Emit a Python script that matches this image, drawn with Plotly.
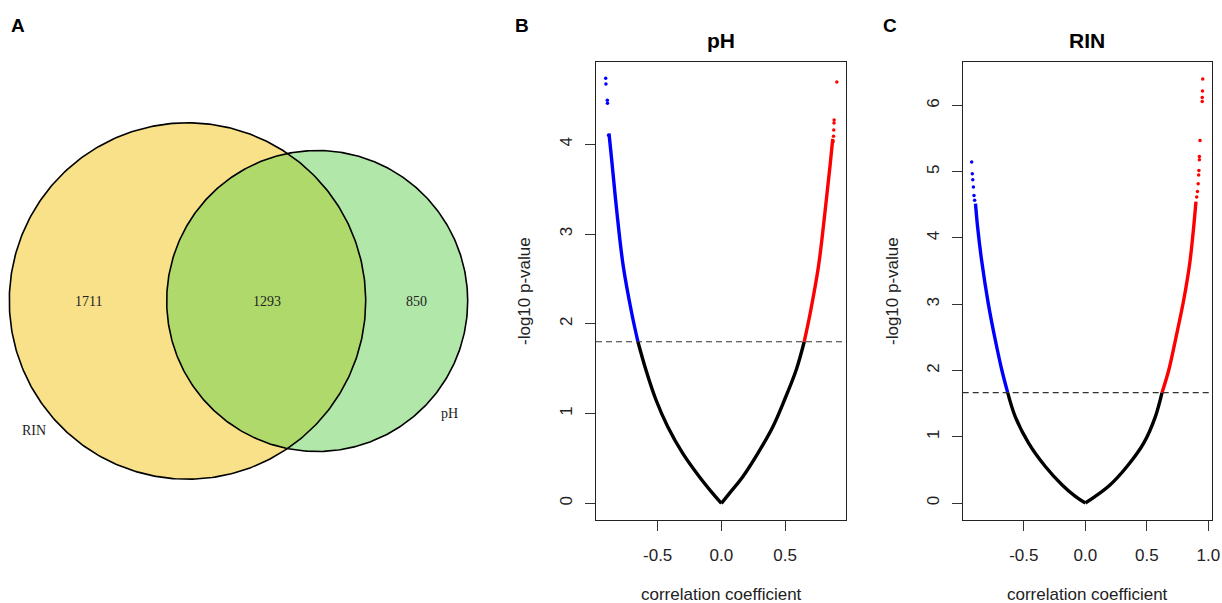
import numpy as np
import plotly.graph_objects as go

W, H = 1222, 603          # reference pixel frame used for positions
FIG_W = 1230              # rendered width (the page capture is scaled to 1222)

# ---------------- data ----------------
venn_sets = ["RIN", "pH"]
venn_counts = [1711, 1293, 850]  # RIN only, both, pH only

ph_threshold = 1.80
ph_left_r = [-0.882, -0.861, -0.822, -0.770, -0.704, -0.655, -0.592, -0.513, -0.421, -0.303, -0.173, -0.068, 0.0]
ph_left_v = [4.12, 3.83, 3.27, 2.64, 2.12, 1.80, 1.485, 1.151, 0.854, 0.557, 0.297, 0.111, 0.0]
ph_right_r = [0.0, 0.063, 0.168, 0.286, 0.404, 0.495, 0.587, 0.650, 0.697, 0.762, 0.815, 0.852, 0.874]
ph_right_v = [0.0, 0.111, 0.297, 0.557, 0.854, 1.151, 1.485, 1.80, 2.117, 2.64, 3.27, 3.75, 4.06]
ph_tail_neg_r = [-0.908, -0.906, -0.895, -0.894, -0.885]
ph_tail_neg_v = [4.735, 4.672, 4.49, 4.457, 4.10]
ph_tail_pos_r = [0.906, 0.885, 0.884, 0.882, 0.880, 0.877]
ph_tail_pos_v = [4.694, 4.27, 4.236, 4.16, 4.09, 4.03]

rin_threshold = 1.666
rin_left_r = [-0.893, -0.876, -0.843, -0.789, -0.732, -0.678, -0.631, -0.570, -0.461, -0.325, -0.190, -0.081, 0.0]
rin_left_v = [4.52, 4.17, 3.66, 3.01, 2.46, 2.00, 1.666, 1.305, 0.904, 0.551, 0.276, 0.10, 0.0]
rin_right_r = [0.0, 0.081, 0.203, 0.339, 0.475, 0.570, 0.624, 0.678, 0.733, 0.800, 0.848, 0.878, 0.900]
rin_right_v = [0.0, 0.10, 0.276, 0.551, 0.904, 1.305, 1.666, 2.00, 2.46, 3.06, 3.60, 4.10, 4.55]
rin_tail_neg_r = [-0.924, -0.919, -0.915, -0.910, -0.905, -0.900]
rin_tail_neg_v = [5.145, 4.97, 4.88, 4.77, 4.64, 4.57]
rin_tail_pos_r = [0.955, 0.953, 0.951, 0.951, 0.933, 0.928, 0.928, 0.924, 0.922, 0.918, 0.912, 0.906]
rin_tail_pos_v = [6.40, 6.22, 6.12, 6.06, 5.47, 5.23, 5.18, 5.02, 4.95, 4.82, 4.70, 4.62]

def px(x):
    return x / W

def py(y):
    return 1 - y / H

FONT = "Liberation Sans"
BLUE = "#0000FF"
RED = "#FF0000"

fig = go.Figure()

# ---------------- panel A: Venn ----------------
cA = (187.5, 301.0, 178.2)
cB = (317.2, 301.0, 150.5)
col_rin = "#F9E189"
col_ph = "#B1E7A9"
col_both = "#AFDA6B"

def circle_pts(c, n=400):
    t = np.linspace(0, 2 * np.pi, n)
    return c[0] + c[2] * np.cos(t), c[1] + c[2] * np.sin(t)

for c, col in [(cA, col_rin), (cB, col_ph)]:
    xs, ys = circle_pts(c)
    fig.add_trace(go.Scatter(x=xs, y=ys, mode="lines", fill="toself", fillcolor=col,
                             line=dict(width=0, color=col), xaxis="x3", yaxis="y3",
                             hoverinfo="skip", showlegend=False))

d = cB[0] - cA[0]
a = (d ** 2 + cA[2] ** 2 - cB[2] ** 2) / (2 * d)
h = np.sqrt(cA[2] ** 2 - a ** 2)
thA = np.arctan2(h, a)
thB = np.arctan2(h, d - a)
tA = np.linspace(-thA, thA, 200)
tB = np.linspace(np.pi - thB, np.pi + thB, 200)
lx = np.concatenate([cA[0] + cA[2] * np.cos(tA), cB[0] + cB[2] * np.cos(tB)])
ly = np.concatenate([cA[1] + cA[2] * np.sin(tA), cB[1] + cB[2] * np.sin(tB)])
fig.add_trace(go.Scatter(x=lx, y=ly, mode="lines", fill="toself", fillcolor=col_both,
                         line=dict(width=0, color=col_both), xaxis="x3", yaxis="y3",
                         hoverinfo="skip", showlegend=False))
for c in [cA, cB]:
    xs, ys = circle_pts(c)
    fig.add_trace(go.Scatter(x=xs, y=ys, mode="lines", line=dict(width=1.6, color="black"),
                             xaxis="x3", yaxis="y3", hoverinfo="skip", showlegend=False))

venn_text_pos = [(88, 301.7), (266.7, 301.7), (416.7, 301.7)]
for (tx, ty), n in zip(venn_text_pos, venn_counts):
    fig.add_annotation(x=tx, y=ty, xref="x3", yref="y3", text=str(n), showarrow=False,
                       xanchor="center", yanchor="middle",
                       font=dict(family="Liberation Serif", size=14, color="#222"))
venn_label_pos = [(34, 430.7), (449, 413)]
for (tx, ty), s in zip(venn_label_pos, venn_sets):
    fig.add_annotation(x=tx, y=ty, xref="x3", yref="y3", text=s, showarrow=False,
                       xanchor="center", yanchor="middle",
                       font=dict(family="Liberation Serif", size=14, color="#222"))

# ---------------- panels B, C ----------------
def add_curve(lr, lv, rr, rv, thr, tnr, tnv, tpr, tpv, xa, ya):
    lr, lv, rr, rv = map(np.array, (lr, lv, rr, rv))
    for r_, v_ in [(lr[lv <= thr], lv[lv <= thr]), (rr[rv <= thr], rv[rv <= thr])]:
        fig.add_trace(go.Scatter(x=r_, y=v_, mode="lines",
                                 line=dict(color="black", width=3.4, shape="spline", smoothing=1.0),
                                 xaxis=xa, yaxis=ya, hoverinfo="skip", showlegend=False))
    fig.add_trace(go.Scatter(x=lr[lv >= thr], y=lv[lv >= thr], mode="lines",
                             line=dict(color=BLUE, width=3.4, shape="spline", smoothing=1.0),
                             xaxis=xa, yaxis=ya, hoverinfo="skip", showlegend=False))
    fig.add_trace(go.Scatter(x=rr[rv >= thr], y=rv[rv >= thr], mode="lines",
                             line=dict(color=RED, width=3.4, shape="spline", smoothing=1.0),
                             xaxis=xa, yaxis=ya, hoverinfo="skip", showlegend=False))
    fig.add_trace(go.Scatter(x=tnr, y=tnv, mode="markers", marker=dict(color=BLUE, size=3.5),
                             xaxis=xa, yaxis=ya, hoverinfo="skip", showlegend=False))
    fig.add_trace(go.Scatter(x=tpr, y=tpv, mode="markers", marker=dict(color=RED, size=3.5),
                             xaxis=xa, yaxis=ya, hoverinfo="skip", showlegend=False))
    fig.add_shape(type="line", xref=xa + " domain", yref=ya, x0=0, x1=1, y0=thr, y1=thr,
                  line=dict(color="#333", width=1.2, dash="6px,4px"))

add_curve(ph_left_r, ph_left_v, ph_right_r, ph_right_v, ph_threshold,
          ph_tail_neg_r, ph_tail_neg_v, ph_tail_pos_r, ph_tail_pos_v, "x", "y")
add_curve(rin_left_r, rin_left_v, rin_right_r, rin_right_v, rin_threshold,
          rin_tail_neg_r, rin_tail_neg_v, rin_tail_pos_r, rin_tail_pos_v, "x2", "y2")

axis_common = dict(showgrid=False, zeroline=False, showline=True, mirror=True,
                   linecolor="#222", linewidth=1, ticks="outside", ticklen=10,
                   tickcolor="#333", tickwidth=1,
                   tickfont=dict(family=FONT, size=17, color="#222"))

fig.update_layout(
    width=FIG_W, height=H, margin=dict(l=0, r=0, t=0, b=0), autosize=False,
    paper_bgcolor="white", plot_bgcolor="white", showlegend=False,
    xaxis=dict(domain=[px(596), px(846)], range=[-0.984, 0.978],
               tickvals=[-0.5, 0, 0.5], ticktext=["-0.5", "0.0", "0.5"],
               ticklabelstandoff=10, **axis_common),
    yaxis=dict(domain=[py(520), py(62)], range=[-0.186, 4.917],
               tickvals=[0, 1, 2, 3, 4], tickangle=-90, ticklabelstandoff=6, **axis_common),
    xaxis2=dict(domain=[px(962.7), px(1211.7)], range=[-0.997, 1.028], anchor="y2",
                tickvals=[-0.5, 0, 0.5, 1.0], ticktext=["-0.5", "0.0", "0.5", "1.0"],
                ticklabelstandoff=10, **axis_common),
    yaxis2=dict(domain=[py(520), py(62)], range=[-0.256, 6.656], anchor="x2",
                tickvals=[0, 1, 2, 3, 4, 5, 6], tickangle=-90, ticklabelstandoff=6, **axis_common),
    xaxis3=dict(domain=[0, px(480)], range=[0, 480], visible=False, anchor="y3"),
    yaxis3=dict(domain=[py(490), py(100)], range=[490, 100], visible=False, anchor="x3"),
)

# panel letters, titles, axis labels
for txt, x, y in [("A", 18, 25), ("B", 522, 25), ("C", 890, 25)]:
    fig.add_annotation(x=px(x), y=py(y), xref="paper", yref="paper", text="<b>%s</b>" % txt,
                       showarrow=False, xanchor="center", yanchor="middle",
                       font=dict(family=FONT, size=19, color="black"))
for txt, x in [("pH", 721), ("RIN", 1087)]:
    fig.add_annotation(x=px(x), y=py(40), xref="paper", yref="paper", text="<b>%s</b>" % txt,
                       showarrow=False, xanchor="center", yanchor="middle",
                       font=dict(family=FONT, size=21, color="black"))
    fig.add_annotation(x=px(x), y=py(594), xref="paper", yref="paper", text="correlation coefficient",
                       showarrow=False, xanchor="center", yanchor="middle",
                       font=dict(family=FONT, size=17, color="#222"))
for x in [524, 892]:
    fig.add_annotation(x=px(x), y=py(291), xref="paper", yref="paper", text="-log10 p-value",
                       textangle=-90, showarrow=False, xanchor="center", yanchor="middle",
                       font=dict(family=FONT, size=17, color="#222"))

post = (
    "document.documentElement.style.margin='0';"
    "document.documentElement.style.overflow='hidden';"
    "document.body.style.margin='0';"
    "document.body.style.overflow='hidden';"
)
fig.write_html("out.html", post_script=post, config={"displayModeBar": False})
